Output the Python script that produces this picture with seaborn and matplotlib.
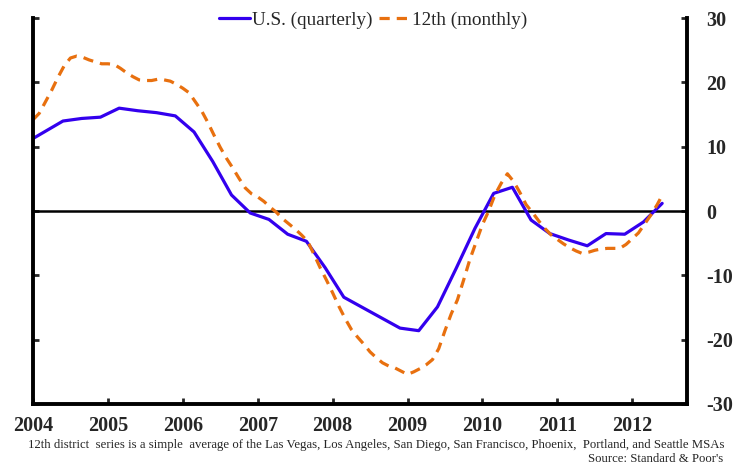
import numpy as np
import pandas as pd
import matplotlib
matplotlib.use("Agg")
import matplotlib.pyplot as plt
import seaborn as sns

# U.S. quarterly (decimal-year dates, mid-quarter)
us_dates = [2003.90, 2004.15, 2004.40, 2004.65, 2004.90, 2005.15, 2005.40, 2005.65, 2005.90,
            2006.15, 2006.40, 2006.65, 2006.90, 2007.15, 2007.40, 2007.65, 2007.90,
            2008.15, 2008.40, 2008.65, 2008.90, 2009.15, 2009.40, 2009.65, 2009.90,
            2010.15, 2010.40, 2010.65, 2010.90, 2011.15, 2011.40, 2011.65, 2011.90,
            2012.15, 2012.40]
us_values = [10.6, 12.3, 14.0, 14.4, 14.6, 16.0, 15.6, 15.3, 14.8,
             12.3, 7.7, 2.5, -0.3, -1.3, -3.6, -4.7, -8.8,
             -13.4, -15.0, -16.6, -18.2, -18.6, -14.9, -8.9, -2.7,
             2.75, 3.7, -1.4, -3.5, -4.5, -5.4, -3.5, -3.6,
             -1.7, 1.2]

# 12th district monthly, Jan 2004 .. Jun 2012
d12_values = [14.2, 15.2, 17.0, 18.8, 20.8, 22.6, 23.8, 24.1, 23.9, 23.5, 23.2, 22.9,
              22.9, 22.8, 22.2, 21.5, 20.9, 20.4, 20.3, 20.3, 20.5, 20.4, 20.2, 19.7,
              19.1, 18.4, 17.0, 15.6, 13.8, 11.8, 9.9, 8.2, 6.7, 5.1, 3.6, 2.7,
              2.2, 1.5, 0.6, -0.2, -1.2, -2.0, -2.8, -3.7, -4.7, -6.7, -8.8, -10.7,
              -12.7, -14.8, -16.7, -18.4, -19.6, -20.7, -21.9, -22.8, -23.6, -24.1, -24.4, -24.9,
              -25.4, -25.0, -24.5, -23.9, -23.1, -21.4, -18.6, -16.0, -13.8, -10.7, -7.5, -4.8,
              -2.1, 0.0, 2.5, 4.3, 5.8, 4.6, 2.9, 1.0, -0.2, -1.5, -2.7, -3.7,
              -4.4, -5.1, -5.7, -6.2, -6.6, -6.4, -6.1, -5.9, -5.8, -5.8, -5.8, -5.2,
              -4.3, -3.4, -2.0, -0.6, 1.0, 2.8]
d12_dates = pd.date_range("2004-01-01", periods=len(d12_values), freq="MS")
d12_years = d12_dates.year + (d12_dates.month - 1) / 12.0

year_ticks = list(range(2004, 2013))
y_ticks = [-30, -20, -10, 0, 10, 20, 30]

footnote = ("12th district  series is a simple  average of the Las Vegas, Los Angeles, San Diego, "
            "San Francisco, Phoenix,  Portland, and Seattle MSAs")
source = "Source: Standard & Poor's"

sns.set_style("white")
plt.rcParams["font.family"] = ["Liberation Serif", "DejaVu Serif"]

us = pd.DataFrame({"date": us_dates, "value": us_values})
d12 = pd.DataFrame({"date": d12_years, "value": d12_values})

fig = plt.figure(figsize=(7.45, 4.65), dpi=100)
ax = fig.add_axes([0.0443, 0.1312, 0.8777, 0.8298])

blue = "#3300ee"
orange = "#e8700f"
sns.lineplot(data=us, x="date", y="value", ax=ax, color=blue, linewidth=2.3,
             label="U.S. (quarterly)")
sns.lineplot(data=d12, x="date", y="value", ax=ax, color=orange, linewidth=2.3,
             label="12th (monthly)")
ax.lines[1].set_dashes((3.2, 2.2))

ax.axhline(0, color="black", linewidth=1.8, zorder=1)

ax.set_xlim(2004, 2012.73)
ax.set_ylim(-30, 30)
ax.set_xticks(year_ticks)
ax.set_xticklabels([str(y) for y in year_ticks], fontsize=14.5, fontweight="bold")
ax.set_yticks(y_ticks)
ax.set_yticklabels([str(v) for v in y_ticks], fontsize=14.5, fontweight="bold")
ax.tick_params(axis="y", left=True, right=True, labelleft=False, labelright=True,
               direction="in", length=4, width=2, pad=14)
ax.tick_params(axis="x", bottom=True, direction="in", length=4, width=2, pad=9)
ax.set_xlabel("")
ax.set_ylabel("")

for side in ["left", "right", "bottom"]:
    ax.spines[side].set_linewidth(2.8)
    ax.spines[side].set_color("black")
ax.spines["top"].set_visible(False)

leg = ax.legend(loc="center", bbox_to_anchor=(0.52, 0.995), ncol=2, frameon=False,
                fontsize=13.8, handlelength=1.6, handletextpad=0.1, columnspacing=0.35,
                borderaxespad=0)
for line in leg.get_lines():
    line.set_linewidth(2.3)

fig.text(0.037, 0.042, footnote, fontsize=9.2, ha="left", va="center")
fig.text(0.971, 0.013, source, fontsize=9.2, ha="right", va="center")

fig.savefig("out.png", dpi=100)
